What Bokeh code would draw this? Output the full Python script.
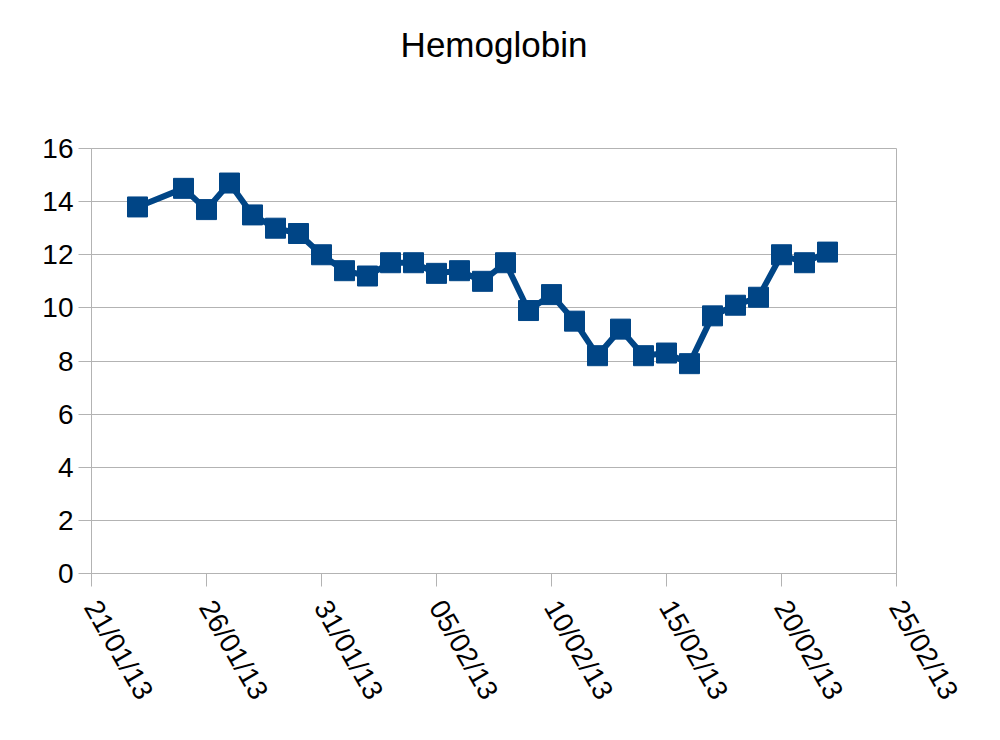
import datetime as dt
import math
from bokeh.plotting import figure
from bokeh.models import FixedTicker, DatetimeTickFormatter, Range1d, ColumnDataSource, Title
from bokeh.embed import file_html
from bokeh.resources import INLINE

dates = ["2013-01-23", "2013-01-25", "2013-01-26", "2013-01-27", "2013-01-28", "2013-01-29",
         "2013-01-30", "2013-01-31", "2013-02-01", "2013-02-02", "2013-02-03", "2013-02-04",
         "2013-02-05", "2013-02-06", "2013-02-07", "2013-02-08", "2013-02-09", "2013-02-10",
         "2013-02-11", "2013-02-12", "2013-02-13", "2013-02-14", "2013-02-15", "2013-02-16",
         "2013-02-17", "2013-02-18", "2013-02-19", "2013-02-20", "2013-02-21", "2013-02-22"]
hemoglobin = [13.8, 14.5, 13.7, 14.7, 13.5, 13.0, 12.8, 12.0, 11.4, 11.2, 11.7, 11.7,
              11.3, 11.4, 11.0, 11.7, 9.9, 10.5, 9.5, 8.2, 9.2, 8.2, 8.3, 7.9,
              9.7, 10.1, 10.4, 12.0, 11.7, 12.1]
tick_dates = ["2013-01-21", "2013-01-26", "2013-01-31", "2013-02-05", "2013-02-10",
              "2013-02-15", "2013-02-20", "2013-02-25"]
y_ticks = [0, 2, 4, 6, 8, 10, 12, 14, 16]
title_text = "Hemoglobin"

def to_dt(s):
    return dt.datetime.strptime(s, "%Y-%m-%d")

def to_ms(s):
    return (to_dt(s) - dt.datetime(1970, 1, 1)).total_seconds() * 1000.0

src = ColumnDataSource(dict(x=[to_dt(d) for d in dates], y=hemoglobin))

GRID = "#b3b3b3"
COLOR = "#004586"
FONT = "Liberation Sans"

p = figure(width=984, height=724, x_axis_type="datetime", output_backend="svg",
           toolbar_location=None,
           x_range=Range1d(to_ms(tick_dates[0]), to_ms(tick_dates[-1])),
           y_range=Range1d(0, 16))
p.frame_width = 805
p.frame_height = 425
p.min_border_left = 91
p.min_border_right = 88
p.min_border_top = 148
p.min_border_bottom = 151

# spacer between frame and title
p.add_layout(Title(text=" ", text_font=FONT, text_font_size="35px", standoff=39), "above")

p.title.text = title_text
p.title.align = "center"
p.title.text_font = FONT
p.title.text_font_size = "35px"
p.title.text_font_style = "normal"
p.title.text_color = "black"
p.title.offset = 2

p.line("x", "y", source=src, line_color=COLOR, line_width=6, line_join="round")
p.scatter("x", "y", source=src, marker="square", size=20, fill_color=COLOR, line_color=COLOR)

p.xaxis.ticker = FixedTicker(ticks=[to_ms(t) for t in tick_dates])
p.xaxis.formatter = DatetimeTickFormatter(days="%d/%m/%y", months="%d/%m/%y", years="%d/%m/%y")
p.xaxis.major_label_orientation = -math.pi / 3
p.yaxis.ticker = FixedTicker(ticks=y_ticks)

for ax in (p.xaxis, p.yaxis):
    ax.axis_line_color = GRID
    ax.major_tick_line_color = GRID
    ax.major_tick_out = 13
    ax.major_tick_in = 0
    ax.minor_tick_line_color = None
    ax.major_label_text_font = FONT
    ax.major_label_text_font_size = "28px"
    ax.major_label_text_color = "black"
p.yaxis.major_label_standoff = 5
p.xaxis.major_label_standoff = 16

p.xgrid.grid_line_color = None
p.ygrid.grid_line_color = GRID
p.outline_line_color = GRID
p.background_fill_color = "white"
p.border_fill_color = "white"

open("out.html", "w").write(file_html(p, INLINE))
